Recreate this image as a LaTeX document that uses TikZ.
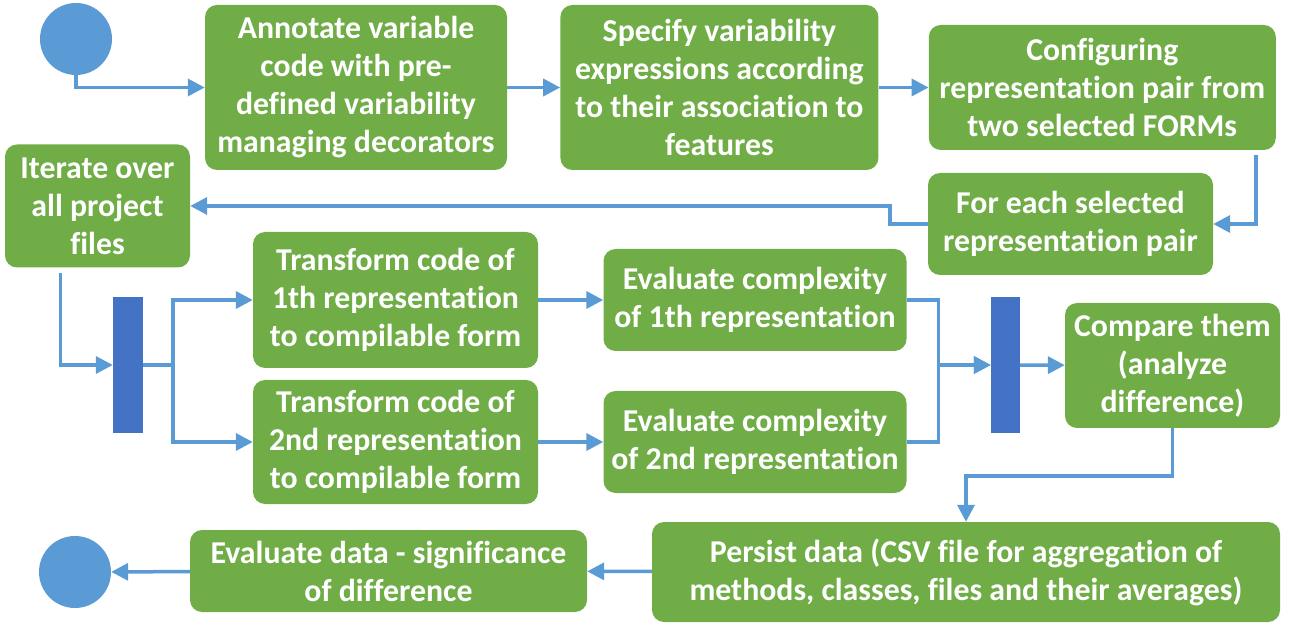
\documentclass[tikz,border=0pt]{standalone}
\usepackage{fontspec}
\setmainfont{Carlito}[Ligatures=CommonOff]
\usetikzlibrary{arrows.meta, positioning}
\definecolor{stepbg}{HTML}{70AD47}
\definecolor{flowline}{HTML}{5B9BD5}
\definecolor{barbg}{HTML}{4472C4}
\definecolor{dotbg}{HTML}{5B9BD5}
\tikzset{
  stepbox/.style={
    fill=stepbg,
    draw=none,
    rounded corners=12pt,
    align=center,
    inner sep=0pt,
    text=white,
    font=\fontsize{31.8}{38}\selectfont\bfseries
  },
  syncbar/.style={
    fill=barbg,
    draw=none,
    minimum width=30pt,
    minimum height=136pt,
    inner sep=0pt
  },
  terminal/.style={
    circle,
    fill=dotbg,
    draw=none,
    minimum size=72pt,
    inner sep=0pt
  },
  arrow/.style={
    -{Triangle[length=17pt,width=17pt]},
    line width=3.5pt,
    draw=flowline
  }
}
\begin{document}
\begin{tikzpicture}[x=1pt, y=1pt]
\useasboundingbox (0,0) rectangle (1296,627);

\node[terminal] (start) at (76,588) {};

\node[stepbox, minimum width=302pt, minimum height=165pt] (annotate) at (356,539.5) {
  Annotate variable\\
  code with pre-\\
  defined variability\\
  managing decorators
};

\node[stepbox, right=53pt of annotate, minimum width=318pt, minimum height=165pt] (specify) {
  Specify variability\\
  expressions according\\
  to their association to\\
  features
};

\node[stepbox, right=50pt of specify, minimum width=347pt, minimum height=125pt] (config) {
  Configuring\\
  representation pair from\\
  two selected FORMs
};

\node[stepbox, minimum width=285pt, minimum height=102pt] (foreach) at (1070.5,403) {
  For each selected\\
  representation pair
};

\node[stepbox, minimum width=185pt, minimum height=123pt] (iterate) at (97.5,421) {
  Iterate over\\
  all project\\
  files
};

\node[syncbar] (bar1) at (128,262) {};

\node[stepbox, minimum width=285pt, minimum height=136pt] (trans1) at (395.5,327) {
  Transform code of\\
  1th representation\\
  to compilable form
};

\node[stepbox, minimum width=285pt, minimum height=124pt] (trans2) at (395.5,185) {
  Transform code of\\
  2nd representation\\
  to compilable form
};

\node[stepbox, minimum width=303pt, minimum height=102pt] (eval1) at (755,327) {
  Evaluate complexity\\
  of 1th representation
};

\node[stepbox, minimum width=303pt, minimum height=102pt] (eval2) at (755,185) {
  Evaluate complexity\\
  of 2nd representation
};

\node[syncbar, minimum width=29pt] (bar2) at (1005.5,262) {};

\node[stepbox, minimum width=215pt, minimum height=125pt] (compare) at (1172.5,261.5) {
  Compare them\\
  (analyze\\
  difference)
};

\node[stepbox, minimum width=628pt, minimum height=100pt] (persist) at (966,55) {
  Persist data (CSV file for aggregation of\\
  methods, classes, files and their averages)
};

\node[stepbox, minimum width=397pt, minimum height=82pt] (evaldata) at (388.5,56) {
  Evaluate data - significance\\
  of difference
};

\node[terminal] (stop) at (75,55) {};

\draw[arrow] (start.south) |- (annotate.west);
\draw[arrow] (annotate) -- (specify);
\draw[arrow] (specify) -- (config);
\draw[arrow] ([xshift=-20pt, yshift=-5pt]config.south east) |- (foreach.east);
\draw[arrow] (foreach.west) -- ++(-38,0) |- (iterate.east);
\draw[arrow] ([xshift=-37pt, yshift=-5pt]iterate.south) |- (bar1.west);
\draw[arrow] (bar1.east) -- ++(30,0) coordinate (fork) |- (trans1.west);
\draw[arrow] (fork) |- (trans2.west);
\draw[arrow] (trans1) -- (eval1);
\draw[arrow] (trans2) -- (eval2);
\draw[arrow] (eval1.east) -- ++(32,0) |- (bar2.west);
\draw[arrow] (eval2.east) -- ++(32,0) |- (bar2.west);
\draw[arrow] (bar2) -- (compare);
\draw[arrow] (compare.south) -- ++(0,-48) -| (persist.north);
\draw[arrow] (persist) -- (evaldata);
\draw[arrow] (evaldata) -- (stop);

\end{tikzpicture}
\end{document}
